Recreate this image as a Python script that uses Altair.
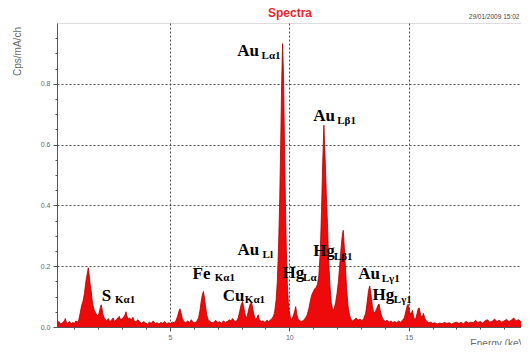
import altair as alt
import pandas as pd

# ---- spectrum (energy in keV, counts in Cps/mA/ch) ----
energy = [0.27,0.35,0.42,0.50,0.58,0.62,0.66,0.72,0.80,0.86,0.92,1.00,1.06,1.12,1.18,1.24,1.30,1.36,1.42,1.48,
          1.53,1.58,1.62,1.66,1.70,1.74,1.78,1.83,1.88,1.93,1.98,2.03,2.08,2.12,2.16,2.20,2.25,2.30,2.36,2.42,
          2.48,2.55,2.62,2.68,2.75,2.82,2.88,2.94,3.00,3.06,3.12,3.16,3.20,3.26,3.32,3.38,3.45,3.50,3.58,3.66,
          3.74,3.82,3.90,3.98,4.06,4.14,4.22,4.30,4.38,4.46,4.54,4.62,4.70,4.78,4.86,4.94,5.02,5.10,5.18,5.26,
          5.32,5.38,5.42,5.47,5.52,5.58,5.66,5.74,5.82,5.90,5.96,6.04,6.12,6.20,6.26,6.31,6.36,6.40,6.44,6.49,
          6.54,6.60,6.68,6.76,6.84,6.92,7.00,7.08,7.16,7.24,7.32,7.40,7.48,7.56,7.62,7.70,7.78,7.86,7.92,7.98,
          8.04,8.09,8.14,8.19,8.24,8.30,8.36,8.42,8.47,8.52,8.58,8.64,8.70,8.75,8.82,8.90,8.98,9.06,9.14,9.22,
          9.30,9.38,9.45,9.50,9.55,9.60,9.64,9.68,9.72,9.76,9.80,9.84,9.88,9.92,9.96,10.00,10.05,10.10,10.16,10.22,
          10.27,10.32,10.38,10.45,10.52,10.60,10.68,10.75,10.82,10.88,10.94,11.00,11.06,11.12,11.18,11.24,11.30,11.35,11.40,11.45,
          11.50,11.55,11.60,11.65,11.70,11.76,11.82,11.88,11.94,12.00,12.06,12.12,12.17,12.22,12.26,12.30,12.35,12.40,12.46,12.52,
          12.58,12.65,12.72,12.80,12.88,12.96,13.04,13.12,13.20,13.26,13.32,13.37,13.42,13.48,13.54,13.60,13.66,13.72,13.76,13.81,
          13.87,13.94,14.02,14.10,14.18,14.26,14.34,14.42,14.50,14.58,14.66,14.74,14.82,14.88,14.94,14.98,15.04,15.10,15.16,15.22,
          15.28,15.34,15.40,15.44,15.50,15.56,15.62,15.68,15.76,15.84,15.92,16.00,16.10,16.20,16.30,16.40,16.50,16.60,16.70,16.80,
          16.90,17.00,17.10,17.20,17.30,17.40,17.50,17.60,17.70,17.80,17.90,18.00,18.10,18.20,18.30,18.40,18.50,18.60,18.70,18.80,
          18.90,19.00,19.10,19.20,19.30,19.40,19.50,19.60,19.70,19.80,19.90,20.00]
counts = [0.012,0.018,0.010,0.014,0.020,0.028,0.016,0.012,0.018,0.010,0.015,0.012,0.020,0.016,0.022,0.045,0.070,0.085,0.110,0.150,
          0.172,0.195,0.170,0.140,0.120,0.090,0.070,0.055,0.048,0.040,0.036,0.045,0.062,0.073,0.058,0.040,0.030,0.025,0.020,0.028,
          0.018,0.022,0.030,0.018,0.024,0.030,0.035,0.022,0.028,0.032,0.040,0.050,0.036,0.026,0.030,0.022,0.032,0.020,0.018,0.024,
          0.016,0.012,0.018,0.013,0.010,0.016,0.012,0.020,0.011,0.014,0.010,0.015,0.012,0.018,0.011,0.014,0.012,0.016,0.014,0.022,
          0.035,0.052,0.060,0.045,0.028,0.018,0.014,0.020,0.015,0.024,0.016,0.014,0.018,0.030,0.055,0.085,0.105,0.117,0.100,0.070,
          0.040,0.024,0.018,0.014,0.016,0.022,0.014,0.018,0.012,0.020,0.015,0.018,0.024,0.020,0.028,0.020,0.018,0.030,0.050,0.072,
          0.084,0.066,0.045,0.030,0.036,0.058,0.075,0.080,0.062,0.040,0.025,0.030,0.040,0.024,0.018,0.020,0.015,0.022,0.018,0.024,
          0.030,0.045,0.090,0.150,0.260,0.420,0.600,0.800,0.932,0.820,0.600,0.400,0.240,0.140,0.080,0.050,0.030,0.025,0.035,0.050,
          0.067,0.040,0.024,0.020,0.018,0.022,0.030,0.040,0.060,0.085,0.105,0.115,0.125,0.130,0.140,0.170,0.250,0.380,0.540,0.664,
          0.560,0.440,0.340,0.220,0.140,0.080,0.056,0.060,0.080,0.110,0.150,0.210,0.260,0.300,0.318,0.270,0.200,0.130,0.070,0.040,
          0.026,0.020,0.024,0.030,0.022,0.026,0.020,0.028,0.045,0.080,0.120,0.135,0.110,0.070,0.045,0.050,0.060,0.072,0.076,0.055,
          0.035,0.024,0.018,0.022,0.016,0.020,0.015,0.018,0.014,0.020,0.016,0.022,0.030,0.050,0.070,0.075,0.050,0.040,0.055,0.030,
          0.024,0.040,0.060,0.063,0.040,0.030,0.045,0.028,0.018,0.014,0.016,0.012,0.014,0.010,0.013,0.011,0.015,0.012,0.014,0.010,
          0.013,0.016,0.012,0.015,0.011,0.018,0.013,0.016,0.014,0.022,0.015,0.018,0.013,0.020,0.024,0.016,0.019,0.026,0.018,0.022,
          0.016,0.020,0.025,0.018,0.022,0.030,0.020,0.024,0.018,0.022,0.020,0.018]

# ---- peak labels (element + subscript line), positions in data units ----
main_text = ["Au", "Au", "Au", "Hg", "Hg", "Au", "Hg", "Fe", "Cu", "S"]
main_E    = [7.82, 11.00, 7.83, 9.72, 11.00, 12.89, 13.49, 5.95, 7.21, 2.14]
main_v    = [0.890, 0.679, 0.236, 0.162, 0.232, 0.158, 0.089, 0.159, 0.087, 0.086]
sub_text  = ["Lα1", "Lβ1", "Ll", "Lα", "Lβ1", "Lγ1", "Lγ1", "Kα1", "Kα1", "Kα1"]
sub_E     = [8.84, 12.01, 8.88, 10.58, 11.87, 13.87, 14.38, 6.88, 8.14, 2.70]
sub_v     = [0.880, 0.669, 0.228, 0.152, 0.222, 0.148, 0.079, 0.152, 0.080, 0.080]

# ---- header texts (chart title and acquisition date), positions in data units ----
title_text = ["Spectra"]
title_E = [10.03]
title_v = [1.019]
date_text = ["29/01/2009 15:02"]
date_E = [17.52]
date_v = [1.012]

x_major = [5, 10, 15, 20]
x_minor = [1, 2, 3, 4, 6, 7, 8, 9, 11, 12, 13, 14, 16, 17, 18, 19]
y_major = [0.0, 0.2, 0.4, 0.6, 0.8]
y_minor = [0.05, 0.1, 0.15, 0.25, 0.3, 0.35, 0.45, 0.5, 0.55, 0.65, 0.7, 0.75, 0.85, 0.9, 0.95]

spec = pd.DataFrame({"E": energy, "cps": counts})
main_df = pd.DataFrame({"E": main_E, "v": main_v, "t": main_text})
sub_df = pd.DataFrame({"E": sub_E, "v": sub_v, "t": sub_text})
title_df = pd.DataFrame({"E": title_E, "v": title_v, "t": title_text})
date_df = pd.DataFrame({"E": date_E, "v": date_v, "t": date_text})

xs = alt.Scale(domain=[0.27, 20], nice=False, zero=False)
ys = alt.Scale(domain=[0, 1.0], nice=False)

axis_common = dict(labelFont="Liberation Sans", labelFontSize=7, labelColor="#666666",
                   domainColor="#555555", tickColor="#555555",
                   grid=True, gridDash=[2, 2], gridColor="#505050", gridWidth=1, gridOpacity=1,
                   titleFont="Liberation Sans", titleFontWeight="normal", titleColor="#6a6a6a", titleFontSize=10)

area = alt.Chart(spec).mark_area(
    color="#ee0a0a", opacity=1,
    line={"color": "#a80000", "strokeWidth": 0.8}
).encode(
    x=alt.X("E:Q", scale=xs, axis=alt.Axis(values=x_major, format="d", orient="bottom",
                                             tickSize=4, labelPadding=2,
                                             title="Energy (keV)", titleAnchor="end",
                                             titleY=19.5, titleBaseline="alphabetic", **axis_common)),
    y=alt.Y("cps:Q", scale=ys, axis=alt.Axis(values=y_major, format=".1f", orient="left",
                                               tickSize=4, labelPadding=3,
                                               title="Cps/mA/ch", titleX=-40, titleY=28,
                                               titleAlign="center", titleBaseline="middle",
                                               **axis_common)),
)

minor = alt.Chart(spec).mark_point(opacity=0).encode(
    x=alt.X("E:Q", scale=xs, axis=alt.Axis(values=x_minor, labels=False, grid=False, domain=False,
                                             tickSize=2, tickColor="#555555", title=None, orient="bottom")),
    y=alt.Y("cps:Q", scale=ys, axis=alt.Axis(values=y_minor, labels=False, grid=False, domain=False,
                                               tickSize=2, tickColor="#555555", title=None, orient="left")),
)

mains = alt.Chart(main_df).mark_text(
    font="Liberation Serif", fontWeight="bold", fontSize=17, align="left", baseline="alphabetic", color="#000000"
).encode(x=alt.X("E:Q", scale=xs, axis=None), y=alt.Y("v:Q", scale=ys, axis=None), text="t:N")

subs = alt.Chart(sub_df).mark_text(
    font="Liberation Serif", fontWeight="bold", fontSize=11, align="left", baseline="alphabetic", color="#000000"
).encode(x=alt.X("E:Q", scale=xs, axis=None), y=alt.Y("v:Q", scale=ys, axis=None), text="t:N")

title = alt.Chart(title_df).mark_text(
    font="Liberation Sans", fontWeight="bold", fontSize=12, align="center", baseline="alphabetic", color="#e8262e"
).encode(x=alt.X("E:Q", scale=xs, axis=None), y=alt.Y("v:Q", scale=ys, axis=None), text="t:N")

date = alt.Chart(date_df).mark_text(
    font="Liberation Sans", fontSize=6.5, align="left", baseline="alphabetic", color="#444444"
).encode(x=alt.X("E:Q", scale=xs, axis=None), y=alt.Y("v:Q", scale=ys, axis=None), text="t:N")

chart = alt.layer(area, minor, mains, subs, title, date).resolve_axis(
    x="independent", y="independent"
).properties(
    width=471, height=304,
    autosize=alt.AutoSizeParams(type="none"),
    padding={"left": 49, "top": 15, "right": -7, "bottom": 18},
).configure_view(
    fill="#c0c0c0", stroke="#555555", strokeWidth=1.5
).configure(background="white")

chart.save("out.html", embed_options={"renderer": "svg", "actions": False})
